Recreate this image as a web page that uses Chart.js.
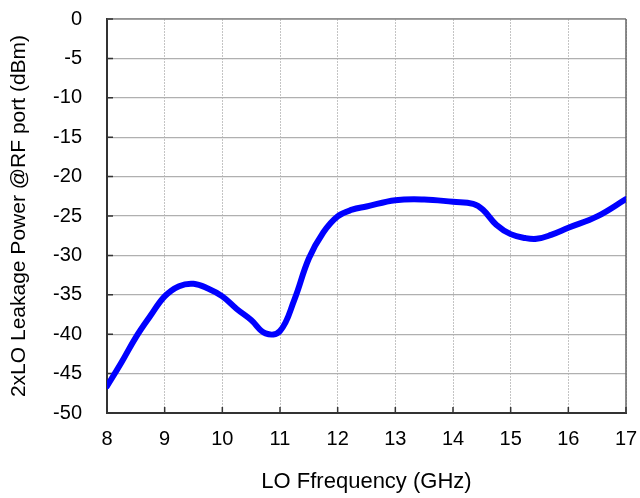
<!DOCTYPE html>
<html>
<head>
<meta charset="utf-8">
<script src="https://cdn.jsdelivr.net/npm/chart.js@4.4.1/dist/chart.umd.min.js"></script>
<style>
  html, body { margin: 0; padding: 0; background: #ffffff; }
  #wrap { width: 640px; height: 498px; position: relative; }
</style>
</head>
<body>
<div id="wrap"><canvas id="chart"></canvas></div>
<script>
  // LO frequency (GHz) and 2xLO leakage at RF port (dBm)
  const freqGHz = [8, 8.25, 8.5, 8.75, 9, 9.25, 9.5, 9.75, 10, 10.25, 10.5, 10.75, 11,
    11.25, 11.5, 11.75, 12, 12.25, 12.5, 13, 13.5, 14, 14.35, 14.52, 14.75, 15, 15.25,
    15.45, 15.7, 16, 16.5, 17];
  const leakageDbm = [-46.6, -43.6, -40.4, -37.7, -35.2, -33.9, -33.6, -34.2, -35.2, -36.8,
    -38.2, -39.9, -39.6, -35.6, -30.4, -27.1, -25.05, -24.2, -23.8, -23.0, -22.9,
    -23.2, -23.45, -24.2, -26.1, -27.3, -27.8, -27.9, -27.4, -26.5, -25.05, -22.85];
  const xTicks = [8, 9, 10, 11, 12, 13, 14, 15, 16, 17];
  const yTicks = [0, -5, -10, -15, -20, -25, -30, -35, -40, -45, -50];

  const points = freqGHz.map((f, i) => ({ x: f, y: leakageDbm[i] }));

  // frame on top/right and short inward tick marks
  const framePlugin = {
    id: 'frame',
    beforeDatasetsDraw(chart) {
      const { ctx, chartArea: a, scales } = chart;
      ctx.save();
      ctx.strokeStyle = '#8a8a8a';
      ctx.lineWidth = 1.5;
      ctx.beginPath();
      ctx.moveTo(a.left, a.top);
      ctx.lineTo(a.right, a.top);
      ctx.stroke();
      ctx.strokeStyle = '#666666';
      ctx.beginPath();
      ctx.moveTo(a.right, a.top);
      ctx.lineTo(a.right, a.bottom);
      ctx.stroke();
      ctx.strokeStyle = '#333333';
      ctx.lineWidth = 1.5;
      ctx.beginPath();
      xTicks.forEach(v => {
        const px = scales.x.getPixelForValue(v);
        ctx.moveTo(px, a.bottom);
        ctx.lineTo(px, a.bottom - 6);
      });
      yTicks.forEach(v => {
        const py = scales.y.getPixelForValue(v);
        ctx.moveTo(a.left, py);
        ctx.lineTo(a.left + 6, py);
      });
      ctx.stroke();
      ctx.restore();
    }
  };

  const font = 'Liberation Sans, Arial, sans-serif';

  new Chart(document.getElementById('chart'), {
    type: 'line',
    data: {
      datasets: [{
        data: points,
        borderColor: '#0000ff',
        borderWidth: 6,
        pointRadius: 0,
        fill: false,
        tension: 0.4,
        borderCapStyle: 'round',
        borderJoinStyle: 'round'
      }]
    },
    options: {
      responsive: true,
      maintainAspectRatio: false,
      animation: false,
      layout: { padding: { left: 0, right: 14, top: 19, bottom: 0 } },
      plugins: { legend: { display: false }, tooltip: { enabled: false } },
      scales: {
        x: {
          type: 'linear',
          min: 8,
          max: 17,
          afterFit: s => { s.height = 85; s.paddingLeft = 0; s.paddingRight = 0; },
          afterBuildTicks: s => { s.ticks = xTicks.map(v => ({ value: v })); },
          ticks: { color: '#000', font: { family: font, size: 20 }, padding: 14, maxRotation: 0 },
          grid: { color: '#c4c4c4', lineWidth: 1, drawTicks: false },
          border: { color: '#333333', width: 2, dash: [2, 1] },
          title: {
            display: true,
            text: 'LO Ffrequency (GHz)',
            color: '#000',
            font: { family: font, size: 22 },
            padding: { top: 0, bottom: 3 }
          }
        },
        y: {
          min: -50,
          max: 0,
          afterFit: s => { s.width = 107; s.paddingTop = 0; s.paddingBottom = 0; },
          afterBuildTicks: s => { s.ticks = yTicks.map(v => ({ value: v })); },
          ticks: { color: '#000', font: { family: font, size: 20 }, padding: 25 },
          grid: { color: '#b0b0b0', lineWidth: 1.2, drawTicks: false },
          border: { color: '#333333', width: 2 },
          title: {
            display: true,
            text: '2xLO Leakage Power @RF port (dBm)',
            color: '#000',
            font: { family: font, size: 21 },
            padding: { top: 7, bottom: 0 }
          }
        }
      }
    },
    plugins: [framePlugin]
  });
</script>
</body>
</html>
